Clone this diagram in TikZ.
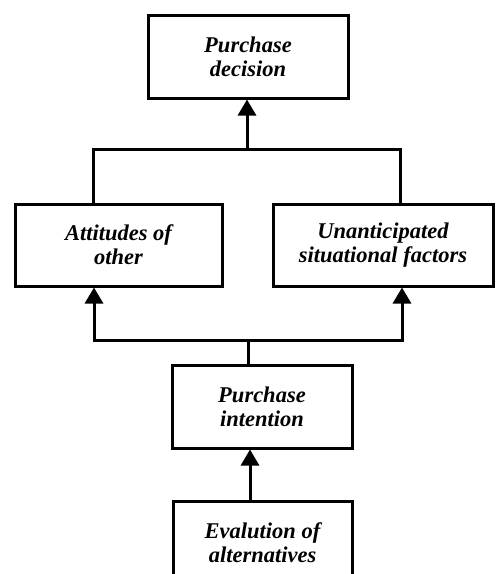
\documentclass[tikz,border=0pt]{standalone}
\usepackage{fontspec}
\setmainfont{Liberation Serif}
\usetikzlibrary{arrows.meta, calc}

\begin{document}
\begin{tikzpicture}[x=1pt, y=-1pt,
    stage/.style={rectangle, draw, line width=3pt, align=center, inner sep=2pt,
        minimum height=83pt, font=\fontsize{22.5}{24}\selectfont\bfseries\itshape},
    link/.style={line width=3pt},
    arrow/.style={link, -{Triangle[length=16pt, width=18pt]}},
]
\clip (0,0) rectangle (496,574);

\node[stage, minimum width=200pt] (decision) at (248, 56.5) {Purchase\\decision};
\node[stage, minimum width=207pt, minimum height=82pt] (attitudes) at (118.5, 245) {Attitudes of\\other};
\node[stage, minimum width=220pt, minimum height=82pt] (factors) at (383, 245) {Unanticipated\\situational factors};
\node[stage, minimum width=180pt] (intention) at (262, 406.5) {Purchase\\intention};
\node[stage, minimum width=179pt] (evaluation) at (262.5, 542.5) {Evalution of\\alternatives};

\coordinate (merge) at (247, 149);
\coordinate (split) at (248, 340);

% upper level
\draw[link] ([xshift=-25pt]attitudes.north) |- (merge) -| ([xshift=17pt]factors.north);
\draw[arrow] (merge) -- (merge |- decision.south);

% lower level
\draw[link] (intention.north -| split) -- (split);
\draw[arrow] (split) -| ([xshift=-24.5pt]attitudes.south);
\draw[arrow] (split) -| ([xshift=19pt]factors.south);
\draw[arrow] ([xshift=-12.5pt]evaluation.north) -- ([xshift=-12pt]intention.south);

\end{tikzpicture}
\end{document}
